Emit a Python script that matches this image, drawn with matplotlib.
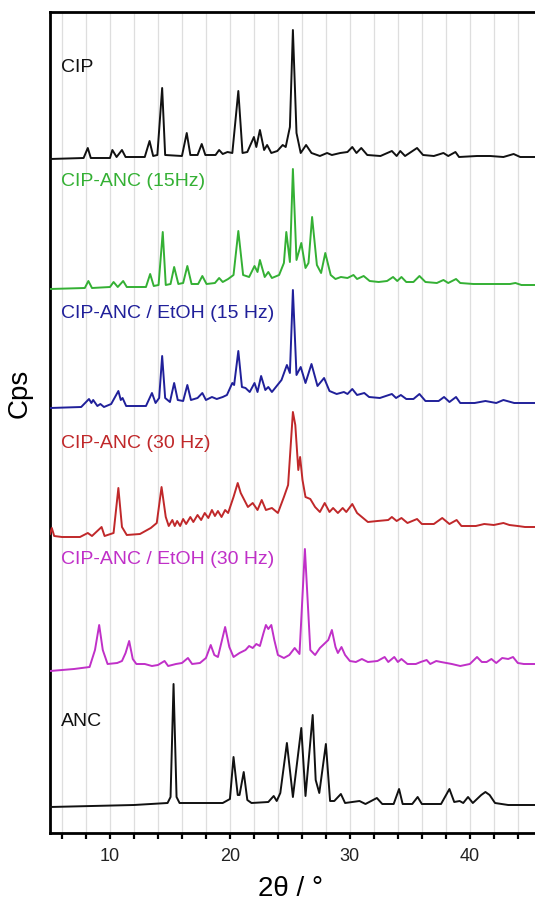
import numpy as np
import matplotlib
matplotlib.use("Agg")
import matplotlib.pyplot as plt
from matplotlib.ticker import MultipleLocator

plt.rcParams['font.family'] = ['Liberation Sans', 'DejaVu Sans']

# ---- powder patterns: 2theta (deg) and intensity above each pattern's own baseline (a.u.) ----
tt_cip = [5.0, 7.8, 8.15, 8.4, 10.0, 10.2, 10.55, 11.0, 11.3, 12.9, 13.3, 13.6, 13.95, 14.35, 14.6,
          16.0, 16.4, 16.7, 17.3, 17.65, 17.95, 18.8, 19.1, 19.4, 19.8, 20.2, 20.7, 21.05, 21.45, 22.0,
          22.2, 22.5, 22.85, 23.1, 23.45, 23.95, 24.4, 24.65, 25.0, 25.25, 25.55, 25.9, 26.35, 26.8, 27.5,
          28.1, 28.5, 29.2, 29.8, 30.2, 30.55, 30.95, 31.45, 32.55, 33.5, 33.9, 34.2, 34.6, 35.6, 36.1,
          37.0, 37.8, 38.2, 38.8, 39.1, 40.6, 41.7, 42.8, 43.65, 44.2, 46.0]
i_cip = [0, 1, 11, 1, 1, 9, 2, 9, 2, 2, 18, 3, 4, 71, 4,
         3, 26, 4, 4, 15, 4, 4, 9, 5, 7, 6, 68, 6, 7, 22,
         12, 29, 9, 14, 6, 8, 14, 12, 32, 129, 26, 6, 14, 6, 3,
         6, 4, 6, 7, 12, 6, 11, 4, 3, 8, 3, 8, 3, 11, 4,
         3, 6, 3, 7, 2, 3, 3, 2, 5, 2, 2]

tt_15 = [5.0, 7.9, 8.2, 8.5, 10.0, 10.3, 10.65, 11.1, 11.4, 13.0, 13.35, 13.65, 14.05, 14.4, 14.65,
         15.05, 15.35, 15.7, 16.1, 16.45, 16.8, 17.35, 17.7, 18.05, 18.75, 19.1, 19.4, 19.85, 20.3, 20.7,
         21.1, 21.6, 22.05, 22.3, 22.5, 22.9, 23.2, 23.5, 24.1, 24.5, 24.7, 25.0, 25.25, 25.55, 25.95,
         26.3, 26.55, 26.85, 27.25, 27.6, 27.95, 28.4, 28.8, 29.25, 29.8, 30.3, 30.6, 31.15, 31.65, 32.4,
         33.1, 33.6, 33.95, 34.3, 34.7, 35.3, 35.8, 36.3, 37.25, 37.8, 38.2, 38.85, 39.2, 40.3, 41.7,
         43.35, 43.8, 44.3, 46.0]
i_15 = [0, 1, 8, 1, 2, 7, 2, 8, 2, 2, 15, 3, 4, 57, 4,
        5, 22, 5, 6, 23, 5, 5, 13, 5, 6, 11, 7, 10, 14, 58,
        14, 12, 23, 17, 29, 12, 17, 11, 14, 26, 57, 27, 120, 29, 46,
        21, 26, 72, 24, 16, 36, 14, 10, 12, 11, 14, 10, 13, 8, 7,
        8, 12, 8, 12, 7, 7, 13, 7, 6, 9, 6, 10, 6, 5, 5,
        5, 6, 4, 4]

tt_et15 = [5.0, 7.6, 8.25, 8.45, 8.6, 8.95, 9.2, 9.5, 10.1, 10.7, 10.9, 11.05, 11.35, 13.0, 13.5,
           13.8, 14.1, 14.35, 14.6, 15.0, 15.35, 15.65, 16.1, 16.45, 16.75, 17.3, 17.7, 18.0, 18.5, 18.9,
           19.4, 19.75, 20.2, 20.35, 20.7, 21.0, 21.3, 21.65, 22.05, 22.3, 22.6, 22.95, 23.2, 23.5, 24.3,
           24.75, 25.0, 25.25, 25.55, 25.9, 26.3, 26.8, 27.3, 27.85, 28.3, 28.9, 29.5, 29.8, 30.2, 30.6,
           31.2, 31.6, 32.5, 33.5, 33.85, 34.25, 34.7, 35.3, 35.8, 36.3, 37.4, 37.85, 38.3, 38.85, 39.2,
           40.4, 41.3, 42.2, 42.8, 43.7, 44.4, 46.0]
i_et15 = [0, 1, 9, 5, 8, 2, 4, 1, 4, 17, 8, 10, 2, 2, 15,
          5, 10, 52, 10, 6, 25, 8, 7, 23, 8, 10, 15, 8, 11, 9,
          11, 13, 25, 23, 57, 21, 20, 16, 25, 16, 32, 18, 21, 16, 28,
          43, 35, 118, 33, 41, 25, 44, 22, 30, 17, 14, 16, 14, 19, 13,
          15, 11, 10, 14, 10, 13, 9, 9, 14, 7, 7, 11, 6, 11, 5,
          5, 7, 5, 8, 5, 5, 5]

tt_30 = [5.0, 5.15, 5.35, 6.0, 7.5, 8.15, 8.5, 9.3, 9.55, 10.3, 10.7, 11.0, 11.4, 12.5, 13.4,
         13.9, 14.3, 14.65, 14.9, 15.2, 15.4, 15.6, 15.85, 16.1, 16.35, 16.7, 16.95, 17.3, 17.6, 17.9,
         18.2, 18.5, 18.75, 19.0, 19.3, 19.6, 19.85, 20.3, 20.65, 20.9, 21.2, 21.5, 21.9, 22.3, 22.65,
         23.0, 23.5, 24.0, 24.5, 24.85, 25.25, 25.45, 25.7, 25.85, 26.05, 26.3, 26.7, 27.1, 27.5, 27.9,
         28.3, 28.6, 29.0, 29.4, 29.7, 30.2, 30.6, 31.0, 31.5, 32.3, 33.2, 33.5, 33.9, 34.3, 34.8,
         35.6, 36.0, 37.0, 37.7, 38.3, 38.9, 39.3, 40.5, 41.2, 42.0, 42.8, 43.3, 44.0, 44.6, 46.0]
i_30 = [3, 9, 1, 0, 0, 4, 1, 10, 1, 4, 49, 10, 2, 3, 9,
        14, 50, 20, 11, 17, 11, 16, 11, 18, 13, 20, 15, 22, 17, 24,
        19, 27, 21, 26, 20, 27, 24, 40, 54, 44, 37, 30, 34, 27, 37,
        27, 29, 24, 40, 52, 125, 112, 67, 80, 57, 40, 38, 30, 25, 34,
        25, 29, 24, 29, 25, 33, 24, 20, 15, 16, 17, 20, 16, 19, 14,
        18, 13, 13, 19, 13, 17, 11, 11, 13, 12, 14, 12, 11, 10, 10]

tt_et30 = [5.0, 7.0, 8.3, 8.75, 9.1, 9.4, 9.8, 10.6, 11.0, 11.3, 11.6, 11.9, 12.2, 12.9, 13.5,
           14.0, 14.55, 14.85, 15.5, 16.0, 16.5, 16.85, 17.5, 18.0, 18.4, 18.7, 19.0, 19.6, 19.95, 20.3,
           20.8, 21.3, 21.6, 21.9, 22.2, 22.5, 22.8, 23.0, 23.2, 23.45, 23.7, 24.0, 24.5, 24.95, 25.4,
           25.8, 26.25, 26.7, 27.1, 27.5, 28.2, 28.5, 28.8, 29.0, 29.3, 29.6, 30.0, 30.5, 31.0, 31.5,
           32.3, 32.9, 33.2, 33.7, 34.0, 34.3, 34.8, 35.5, 35.9, 36.4, 36.7, 37.2, 37.6, 38.5, 39.2,
           40.0, 40.6, 41.0, 41.4, 41.8, 42.2, 42.7, 43.2, 43.6, 44.0, 44.5, 46.0]
i_et30 = [0, 2, 4, 21, 46, 21, 7, 8, 10, 18, 30, 12, 7, 7, 5,
          6, 10, 5, 7, 8, 13, 7, 8, 13, 26, 16, 14, 44, 24, 14,
          18, 21, 25, 23, 27, 25, 38, 46, 42, 46, 31, 16, 13, 16, 23,
          17, 122, 21, 16, 23, 31, 41, 24, 18, 24, 16, 10, 9, 12, 9,
          10, 14, 9, 14, 9, 12, 7, 7, 9, 11, 7, 10, 9, 7, 5,
          7, 14, 9, 9, 12, 8, 13, 12, 14, 8, 7, 7]

tt_anc = [5.0, 12.0, 14.8, 15.05, 15.3, 15.55, 15.8, 19.4, 20.0, 20.3, 20.65, 20.8, 21.15, 21.45, 21.8,
          23.2, 23.65, 23.9, 24.2, 24.75, 25.25, 25.95, 26.3, 26.9, 27.15, 27.45, 28.0, 28.35, 28.7, 29.25,
          29.6, 30.8, 31.3, 32.25, 32.7, 33.65, 34.1, 34.4, 35.2, 35.65, 36.0, 37.6, 38.3, 38.7, 39.15,
          39.45, 39.85, 40.25, 40.95, 41.3, 41.65, 42.1, 43.2, 46.0]
i_anc = [0, 2, 4, 10, 123, 10, 4, 4, 8, 50, 12, 12, 35, 7, 4,
         5, 11, 6, 14, 64, 10, 79, 11, 92, 27, 14, 63, 6, 6, 13,
         4, 6, 3, 9, 3, 3, 18, 3, 3, 10, 3, 3, 18, 5, 6,
         4, 10, 4, 12, 15, 12, 4, 2, 2]

names = ["CIP", "CIP-ANC (15Hz)", "CIP-ANC / EtOH (15 Hz)", "CIP-ANC (30 Hz)",
         "CIP-ANC / EtOH (30 Hz)", "ANC"]
patterns = [(tt_cip, i_cip), (tt_15, i_15), (tt_et15, i_et15), (tt_30, i_30),
            (tt_et30, i_et30), (tt_anc, i_anc)]
offsets = [674, 544, 425, 296, 162, 26]
label_y = [766, 651, 520, 390, 273, 111]
colors = ["#111111", "#34b034", "#20209a", "#c0282a", "#c030c8", "#111111"]

fig = plt.figure(figsize=(5.35, 9.02), dpi=100)
ax = fig.add_axes([50 / 535, 69 / 902, 487 / 535, 821 / 902])

for (tt, inten), off, col in zip(patterns, offsets, colors):
    ax.plot(tt, np.asarray(inten, dtype=float) + off, color=col, lw=1.4,
            solid_joinstyle="round", zorder=3)

for name, y, col in zip(names, label_y, colors):
    ax.text(5.9, y, name, color=col, fontsize=14, ha="left", va="center", zorder=4)

ax.set_xlim(5, 45.6)
ax.set_ylim(0, 821)
ax.xaxis.set_major_locator(MultipleLocator(10))
ax.xaxis.set_minor_locator(MultipleLocator(2))
ax.set_yticks([])
ax.grid(axis="x", which="both", color="#dedede", lw=0.9, zorder=0)
ax.set_axisbelow(True)

for side in ("left", "top", "bottom"):
    ax.spines[side].set_linewidth(2.0)
    ax.spines[side].set_color("black")
ax.spines["right"].set_visible(False)

ax.tick_params(axis="x", which="both", direction="out", length=4.5, width=1.6,
               labelsize=13, pad=6, colors="black")
ax.tick_params(axis="x", which="major", labelcolor="#222222")

ax.set_xlabel("2θ / °", fontsize=20)
ax.xaxis.set_label_coords(0.493, -0.052)
ax.set_ylabel("Cps", fontsize=20)
ax.yaxis.set_label_coords(-0.035, 0.536)

fig.savefig("out.png", dpi=100)
